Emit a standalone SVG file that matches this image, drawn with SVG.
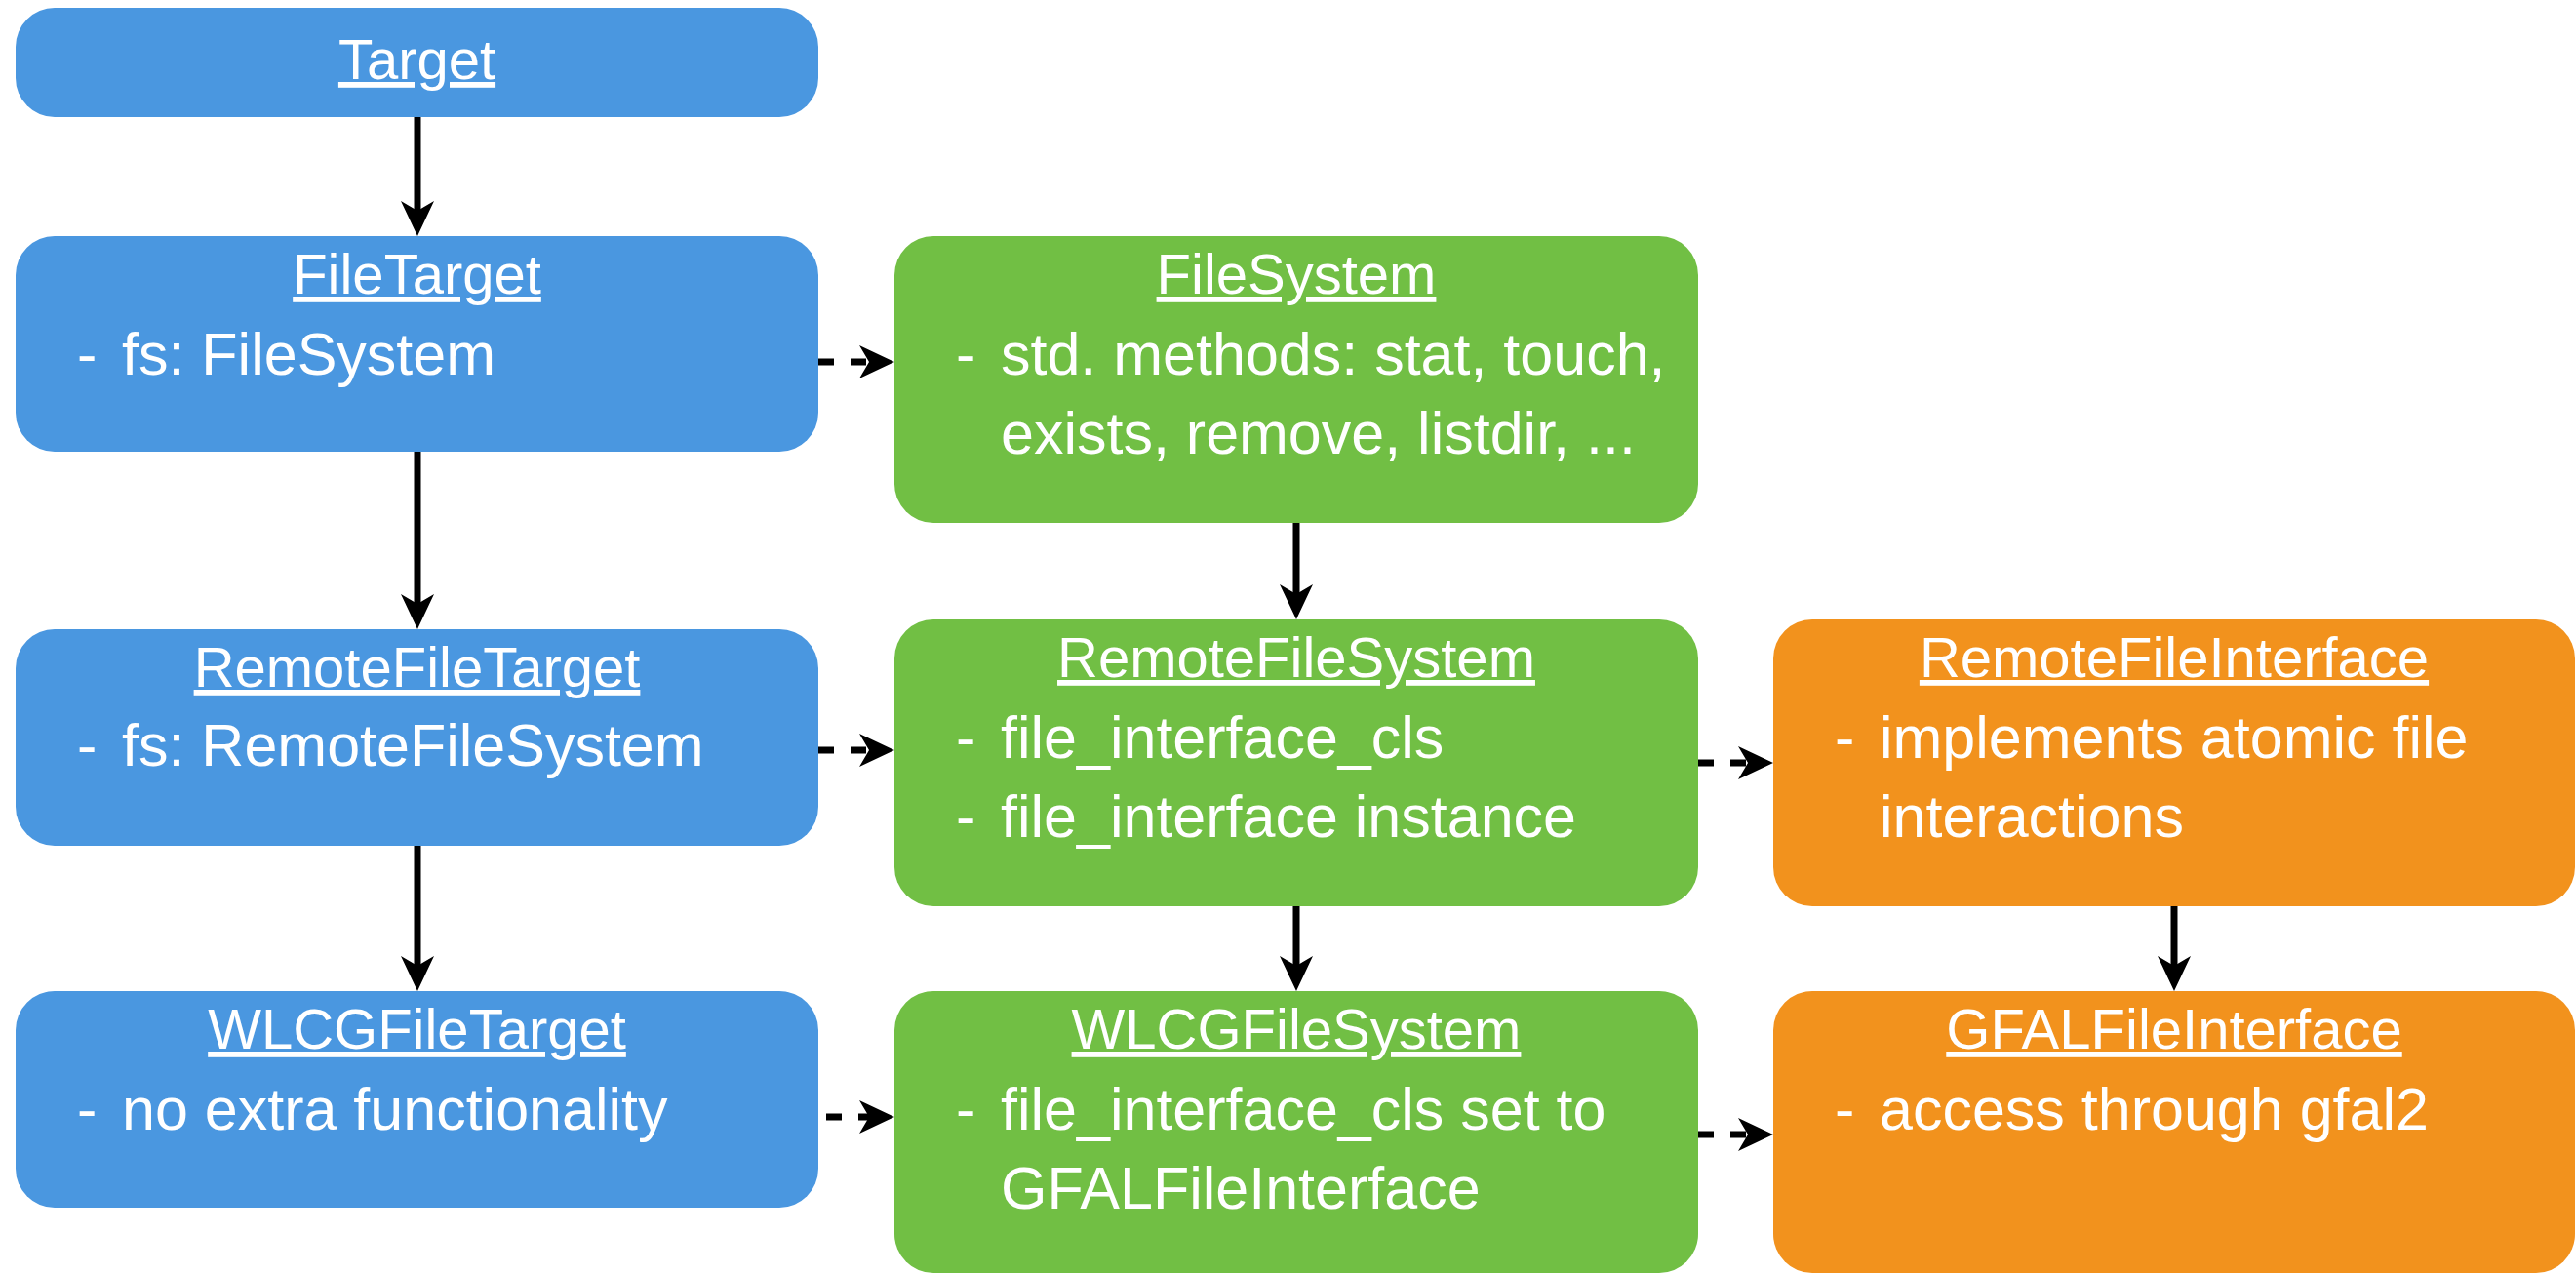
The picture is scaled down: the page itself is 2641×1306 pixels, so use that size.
<svg xmlns="http://www.w3.org/2000/svg" width="2641" height="1306" viewBox="0 0 2641 1306">
  <defs>
    <!-- notched arrowhead; tip sits 10px beyond the end of the line -->
    <marker id="head" markerUnits="userSpaceOnUse" markerWidth="36" markerHeight="36" viewBox="0 0 36 36" refX="26" refY="18" orient="auto">
      <path d="M0,1 L36,18 L0,35 L10,18 Z" fill="#000"/>
    </marker>
    <style>
      .box { stroke: none; }
      .target { fill: #4A97E0; }
      .fs { fill: #71BF44; }
      .iface { fill: #F2921D; }
      text { font-family: "Liberation Sans", Arial, sans-serif; fill: #fff; }
      .title { font-size: 58px; text-anchor: middle; text-decoration: underline; text-decoration-thickness: 3px; text-underline-offset: 8px; }
      .body { font-size: 61px; }
      .solid { stroke: #000; stroke-width: 7; fill: none; marker-end: url(#head); }
      .dashed { stroke: #000; stroke-width: 7; fill: none; stroke-dasharray: 16 17; marker-end: url(#head); }
    </style>
  </defs>

  <rect width="2641" height="1306" fill="#fff"/>

  <!-- target classes -->
  <g id="Target">
    <rect class="box target" x="16" y="8" width="823" height="112" rx="40"/>
    <text class="title" x="427.5" y="81">Target</text>
  </g>
  <g id="FileTarget">
    <rect class="box target" x="16" y="242" width="823" height="221" rx="40"/>
    <text class="title" x="427.5" y="301">FileTarget</text>
    <text class="body" y="384"><tspan x="79">-</tspan><tspan x="125">fs: FileSystem</tspan></text>
  </g>
  <g id="RemoteFileTarget">
    <rect class="box target" x="16" y="645" width="823" height="222" rx="40"/>
    <text class="title" x="427.5" y="704">RemoteFileTarget</text>
    <text class="body" y="785"><tspan x="79">-</tspan><tspan x="125">fs: RemoteFileSystem</tspan></text>
  </g>
  <g id="WLCGFileTarget">
    <rect class="box target" x="16" y="1016" width="823" height="222" rx="40"/>
    <text class="title" x="427.5" y="1075">WLCGFileTarget</text>
    <text class="body" y="1158"><tspan x="79">-</tspan><tspan x="125">no extra functionality</tspan></text>
  </g>

  <!-- file system classes -->
  <g id="FileSystem">
    <rect class="box fs" x="917" y="242" width="824" height="294" rx="40"/>
    <text class="title" x="1329" y="301">FileSystem</text>
    <text class="body" y="384"><tspan x="980">-</tspan><tspan x="1026">std. methods: stat, touch,</tspan></text>
    <text class="body" x="1026" y="465">exists, remove, listdir, ...</text>
  </g>
  <g id="RemoteFileSystem">
    <rect class="box fs" x="917" y="635" width="824" height="294" rx="40"/>
    <text class="title" x="1329" y="694">RemoteFileSystem</text>
    <text class="body" y="777"><tspan x="980">-</tspan><tspan x="1026">file_interface_cls</tspan></text>
    <text class="body" y="858"><tspan x="980">-</tspan><tspan x="1026">file_interface instance</tspan></text>
  </g>
  <g id="WLCGFileSystem">
    <rect class="box fs" x="917" y="1016" width="824" height="289" rx="40"/>
    <text class="title" x="1329" y="1075">WLCGFileSystem</text>
    <text class="body" y="1158"><tspan x="980">-</tspan><tspan x="1026">file_interface_cls set to</tspan></text>
    <text class="body" x="1026" y="1239">GFALFileInterface</text>
  </g>

  <!-- file interface classes -->
  <g id="RemoteFileInterface">
    <rect class="box iface" x="1818" y="635" width="822" height="294" rx="40"/>
    <text class="title" x="2229" y="694">RemoteFileInterface</text>
    <text class="body" y="777"><tspan x="1881">-</tspan><tspan x="1927">implements atomic file</tspan></text>
    <text class="body" x="1927" y="858">interactions</text>
  </g>
  <g id="GFALFileInterface">
    <rect class="box iface" x="1818" y="1016" width="822" height="289" rx="40"/>
    <text class="title" x="2229" y="1075">GFALFileInterface</text>
    <text class="body" y="1158"><tspan x="1881">-</tspan><tspan x="1927">access through gfal2</tspan></text>
  </g>

  <!-- connectors: solid = inheritance, dashed = uses -->
  <g id="connectors">
    <line class="solid" x1="428" y1="120" x2="428" y2="232"/>
    <line class="solid" x1="428" y1="463" x2="428" y2="635"/>
    <line class="solid" x1="428" y1="867" x2="428" y2="1006"/>
    <line class="solid" x1="1329" y1="536" x2="1329" y2="625"/>
    <line class="solid" x1="1329" y1="929" x2="1329" y2="1006"/>
    <line class="solid" x1="2229" y1="929" x2="2229" y2="1006"/>

    <line class="dashed" x1="839" y1="371" x2="907" y2="371"/>
    <line class="dashed" x1="839" y1="769" x2="907" y2="769"/>
    <line class="dashed" x1="847" y1="1145" x2="907" y2="1145"/>
    <line class="dashed" x1="1741" y1="782" x2="1808" y2="782"/>
    <line class="dashed" x1="1741" y1="1163" x2="1808" y2="1163"/>
  </g>
</svg>
